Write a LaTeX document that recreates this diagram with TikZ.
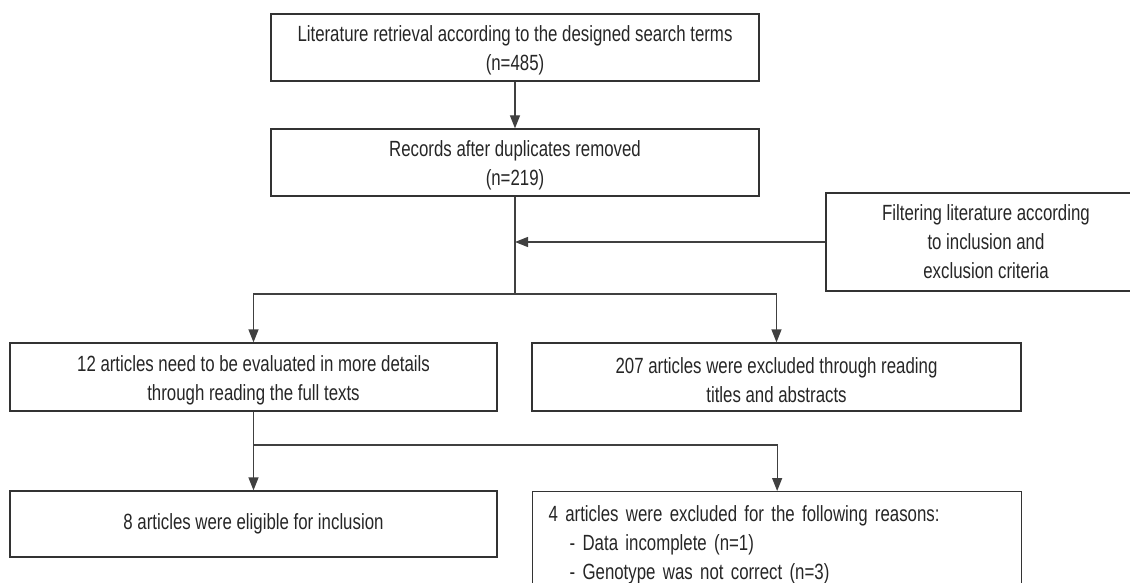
\documentclass[tikz,border=0pt]{standalone}
\usepackage{fontspec}
\setmainfont[FakeStretch=0.765]{Liberation Sans}
\usetikzlibrary{arrows.meta}
\newcommand\myup{\rule{0pt}{22pt}}
\begin{document}
\begin{tikzpicture}[x=1pt,y=-1pt,
  box/.style={draw=black!80, line width=1.3pt, inner sep=0pt, align=center,
    font=\fontsize{22}{29}\selectfont, text=black!85},
  conn/.style={draw=black!75, line width=1.3pt},
  arr/.style={conn, -{Triangle[length=13pt,width=10pt]}}]
\useasboundingbox (0,0) rectangle (1130,583);
\node[box, minimum width=488, minimum height=67] (top) at (515,47.5)
  {\myup Literature retrieval according to the designed search terms\\(n=485)};
\node[box, minimum width=488, minimum height=67] (rec) at (515,162.5)
  {\myup Records after duplicates removed\\(n=219)};
\node[box, minimum width=320, minimum height=98] (filt) at (986,242)
  {Filtering literature according\\to inclusion and\\exclusion criteria};
\node[box, minimum width=487, minimum height=68] (full) at (253.5,377)
  {\myup 12 articles need to be evaluated in more details\\through reading the full texts};
\node[box, minimum width=489, minimum height=68] (exc1) at (776.5,377)
  {\myup 207 articles were excluded through reading\\titles and abstracts};
\node[box, minimum width=487, minimum height=66] (incl) at (253.5,524)
  {8 articles were eligible for inclusion};
\node[box, anchor=north west, text width=457, inner xsep=16, inner ysep=14, align=left] (exc2) at (532,491)
  {4 articles were excluded for the following reasons:\\\hspace*{21pt}- Data incomplete (n=1)\\\hspace*{21pt}- Genotype was not correct (n=3)};
\coordinate (j1) at (515,294);
\coordinate (j2) at (253.5,445);
\draw[arr] (top.south) -- (rec.north);
\draw[conn] (rec.south) -- (j1);
\draw[arr] (filt.west) -- (rec.south |- filt.west);
\draw[arr] (j1) -| (full.north);
\draw[arr] (j1) -| (exc1.north);
\draw[arr] (full.south) -- (incl.north);
\draw[arr] (j2) -| (exc2.north);
\end{tikzpicture}
\end{document}
